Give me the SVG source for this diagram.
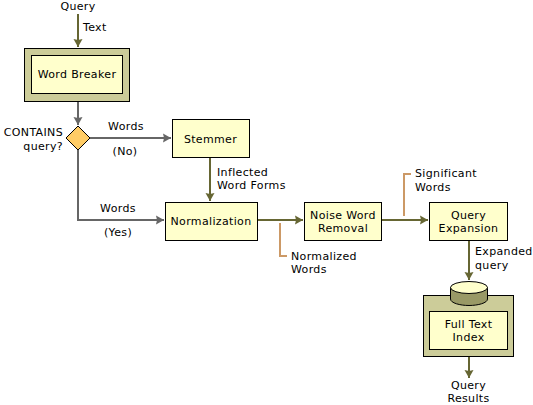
<svg xmlns="http://www.w3.org/2000/svg" width="533" height="405" viewBox="0 0 533 405">
<style>
text{font-family:"DejaVu Sans",Verdana,sans-serif;font-size:11px;letter-spacing:.35px;fill:#000}
.m{text-anchor:middle}
.e{text-anchor:end}
.box{fill:#ffffcc;stroke:#000;stroke-width:1}
.outer{fill:#cccc99;stroke:#000;stroke-width:1}
.ol{fill:none;stroke:#666633;stroke-width:2}
.gr{fill:none;stroke:#666666;stroke-width:2}
.tan{fill:none;stroke:#cc9966;stroke-width:2}
</style>
<defs>
<marker id="ao" markerUnits="userSpaceOnUse" markerWidth="9" markerHeight="10" refX="8" refY="5" orient="auto"><path d="M0 .5L8 5L0 9.500L1 5Z" fill="#666633"/></marker>
<marker id="ag" markerUnits="userSpaceOnUse" markerWidth="9" markerHeight="10" refX="8" refY="5" orient="auto"><path d="M0 .5L8 5L0 9.500L1 5Z" fill="#666666"/></marker>
</defs>
<g id="connectors">
<path class="ol" d="M78 14V47" marker-end="url(#ao)"/>
<path class="gr" d="M78 102V125" marker-end="url(#ag)"/>
<path class="gr" d="M90 138H171" marker-end="url(#ag)"/>
<path class="gr" d="M78 150V220H164" marker-end="url(#ag)"/>
<path class="ol" d="M210 158V201" marker-end="url(#ao)"/>
<path class="ol" d="M258 220H303" marker-end="url(#ao)"/>
<path class="ol" d="M382 220H428" marker-end="url(#ao)"/>
<path class="ol" d="M469 241V280" marker-end="url(#ao)"/>
<path class="ol" d="M469 357V378" marker-end="url(#ao)"/>
<path class="tan" d="M280 223V256H287"/>
<path class="tan" d="M404 216V174H411"/>
</g>
<g id="word-breaker"><rect class="outer" x="24.500" y="48.500" width="105" height="53"/><rect class="box" x="31.500" y="55.500" width="91" height="38"/><text class="m" x="77" y="78">Word Breaker</text></g>
<g id="contains"><path d="M78 126L90 138L78 150L66 138Z" fill="#ffcc66" stroke="#000"/><text class="e" x="63" y="136">CONTAINS</text><text class="e" x="63" y="150">query?</text></g>
<g id="stemmer"><rect class="box" x="172.500" y="119.500" width="77" height="38"/><text class="m" x="210.500" y="143">Stemmer</text></g>
<g id="normalization"><rect class="box" x="165.500" y="202.500" width="92" height="38"/><text class="m" x="211" y="225">Normalization</text></g>
<g id="noise-word-removal"><rect class="box" x="304.500" y="202.500" width="77" height="38"/><text class="m" x="343" y="219">Noise Word</text><text class="m" x="343" y="232">Removal</text></g>
<g id="query-expansion"><rect class="box" x="429.500" y="202.500" width="78" height="38"/><text class="m" x="468.500" y="219">Query</text><text class="m" x="468.500" y="232">Expansion</text></g>
<g id="full-text-index"><rect class="outer" x="423.500" y="295.500" width="90" height="61"/><rect class="box" x="429.500" y="311.500" width="78" height="38"/><text class="m" x="468.500" y="328">Full Text</text><text class="m" x="468.500" y="341">Index</text>
<path d="M450.500 287.500V299C450.500 303 460 305.500 469 305.500S487.500 303 487.500 299V287.500Z" fill="#999966" stroke="#000"/><ellipse cx="469" cy="287.500" rx="18.500" ry="6" fill="#ffffcc" stroke="#000"/></g>
<g id="labels">
<text class="m" x="78" y="10">Query</text>
<text x="83" y="31">Text</text>
<text class="m" x="126" y="130">Words</text>
<text class="m" x="125" y="155">(No)</text>
<text x="217" y="176">Inflected</text>
<text x="217" y="189">Word Forms</text>
<text class="m" x="118" y="212">Words</text>
<text class="m" x="118" y="236">(Yes)</text>
<text x="291" y="260">Normalized</text>
<text x="291" y="273">Words</text>
<text x="415" y="177">Significant</text>
<text x="415" y="191">Words</text>
<text x="475" y="255">Expanded</text>
<text x="475" y="269">query</text>
<text class="m" x="468.500" y="389">Query</text>
<text class="m" x="468.500" y="402">Results</text>
</g>
</svg>
